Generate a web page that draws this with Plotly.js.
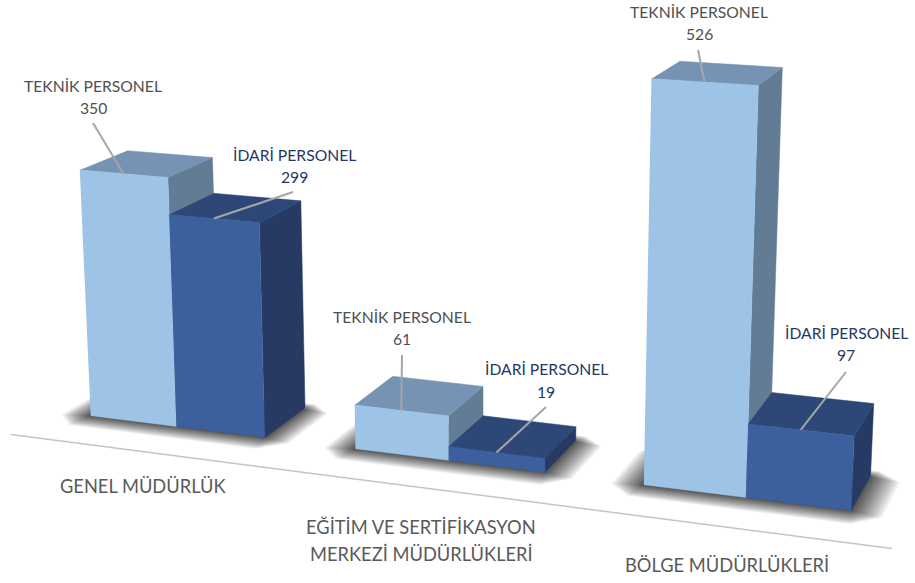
<!DOCTYPE html>
<html><head><meta charset="utf-8">
<script src="https://cdn.plot.ly/plotly-3.0.1.min.js"></script>
<style>html,body{margin:0;padding:0;background:#fff}</style></head>
<body><div id="chart" style="width:915px;height:583px"></div>
<script>
var categories = ["GENEL MÜDÜRLÜK", "EĞİTİM VE SERTİFİKASYON<br>MERKEZİ MÜDÜRLÜKLERİ", "BÖLGE MÜDÜRLÜKLERİ"];
var seriesNames = ["TEKNİK PERSONEL", "İDARİ PERSONEL"];
var teknikValues = [350, 61, 526];
var idariValues = [299, 19, 97];
var seriesValues = [teknikValues, idariValues];

// styling / placement
var FONT = "Lato, sans-serif";
var faceColors = [
  {front:"#9DC3E6", top:"#7693B3", side:"#637C96", text:"#505050"},
  {front:"#3C5F9E", top:"#2D4777", side:"#273A64", text:"#1F3864"}
];
var valueLabelPos = [
  [[93,86,108,93,123],[402,317,339,402,355],[699,12,34,698,50]],
  [[294,155,177,293,192],[546,369,392,546,407],[846,333,355,846,372]]
];
var categoryLabelPos = [[143,486],[421,540],[727,565]];

// perspective camera: u along the axis, h value, d depth
function proj(u,h,d){
  var w = 1 - 0.01377*u - 0.0000677*h + 0.0387*d;
  return [(90.7 + 83.32*u - (0.0365-0.00095*u)*h + 51.1*d)/w,
          (415.7 + 4.826*u - 0.7135*h - 13*d)/w];
}
var traces = [];
function poly(pts,color,lineW){
  traces.push({type:"scatter",mode:"lines",x:pts.map(function(p){return p[0]}),y:pts.map(function(p){return p[1]}),
    fill:"toself",fillcolor:color,line:{color:lineW?color:"rgba(0,0,0,0)",width:lineW||0},hoverinfo:"skip"});
}
function line(a,b,color,w){
  traces.push({type:"scatter",mode:"lines",x:[a[0],b[0]],y:[a[1],b[1]],line:{color:color,width:w},hoverinfo:"skip"});
}
// axis line
line(proj(-0.47,0,-0.8),proj(8.52,0,-0.8),"#C4C4C4",1.5);

// soft shadows
categories.forEach(function(_,c){
  var u0=c*3,u1=c*3+2,n=18;
  for(var i=n;i>=1;i--){
    var t=Math.pow(i/n,1.35), eu=0.3*t, df=0.34*t, db=-0.05+0.19*t, ch=0.24*t;
    poly([proj(u0-eu+ch,0,-df),proj(u1+eu-ch,0,-df),proj(u1+eu,0,-df+ch*1.1),proj(u1+eu,0,1+db-ch),
          proj(u1+eu-ch,0,1+db),proj(u0-eu+ch,0,1+db),proj(u0-eu,0,1+db-ch),proj(u0-eu,0,-df+ch*1.1)],
         "rgba(0,0,0,0.06)");
  }
});
// bars
categories.forEach(function(_,c){
  seriesNames.forEach(function(_,s){
    var v=seriesValues[s][c],u=c*3+s,col=faceColors[s];
    poly([proj(u+1,0,0),proj(u+1,0,1),proj(u+1,v,1),proj(u+1,v,0)],col.side,0.5);
    poly([proj(u,v,0),proj(u+1,v,0),proj(u+1,v,1),proj(u,v,1)],col.top,0.5);
    poly([proj(u,0,0),proj(u+1,0,0),proj(u+1,v,0),proj(u,v,0)],col.front,0.5);
  });
});
// leaders + labels
var ann=[];
function txt(x,y,t,color,size){
  ann.push({xref:"x",yref:"y",x:x,y:y,text:t,showarrow:false,xanchor:"center",yanchor:"middle",
    font:{family:FONT,size:size,color:color}});
}
categories.forEach(function(_,c){
  seriesNames.forEach(function(name,s){
    var v=seriesValues[s][c],p=valueLabelPos[s][c];
    line([p[3],p[4]],proj(c*3+s+0.5,v,0),"#A6A6A6",2);
    txt(p[0],p[1],name,faceColors[s].text,15.7);
    txt(p[0],p[2],String(v),faceColors[s].text,15.7);
  });
});
categories.forEach(function(name,c){
  var parts=name.split("<br>"),p=categoryLabelPos[c];
  parts.forEach(function(t,i){ txt(p[0],p[1]+(i-(parts.length-1)/2)*27,t,"#595959",18.3); });
});
Plotly.newPlot("chart",traces,{
  width:915,height:583,margin:{l:0,r:0,t:0,b:0},showlegend:false,hovermode:false,
  paper_bgcolor:"#fff",plot_bgcolor:"#fff",
  xaxis:{range:[0,915],visible:false,fixedrange:true},
  yaxis:{range:[583,0],visible:false,fixedrange:true},
  annotations:ann
},{displayModeBar:false,staticPlot:true});
</script></body></html>
